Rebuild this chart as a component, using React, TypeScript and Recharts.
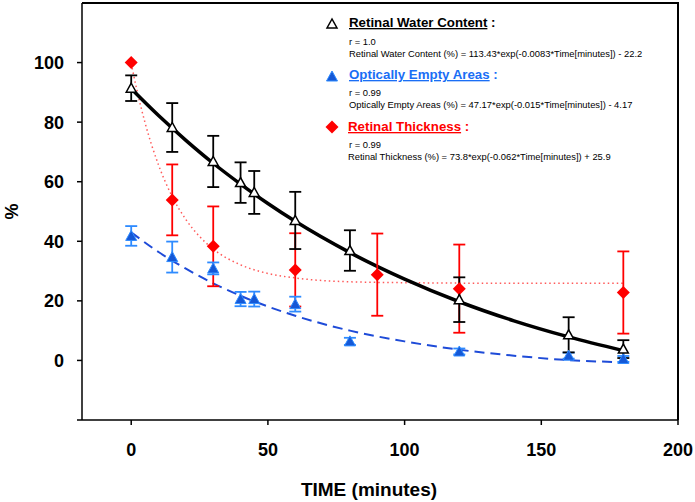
import { ComposedChart, Line, Scatter, ErrorBar, XAxis, YAxis, Label } from 'recharts';

// measured points (mean, +/- error bar)
const waterTime = [0, 15, 30, 40, 45, 60, 80, 120, 160, 180];
const waterMean = [91.4, 78.2, 66.8, 59.7, 56.4, 47.0, 36.9, 20.4, 8.6, 3.8];
const waterErr = [4.3, 8.2, 8.6, 6.8, 7.2, 9.6, 6.8, 7.5, 5.9, 3.0];

const emptyTime = [0, 15, 30, 40, 45, 60, 80, 120, 160, 180];
const emptyMean = [41.8, 34.7, 30.9, 20.6, 20.6, 18.9, 6.4, 3.0, 1.6, 0.5];
const emptyErr = [3.3, 5.2, 2.0, 2.4, 2.5, 2.5, 1.2, 1.0, 1.0, 1.0];

const thickTime = [0, 15, 30, 60, 90, 120, 180];
const thickMean = [100.0, 53.9, 38.3, 30.4, 28.8, 24.1, 22.8];
const thickErr = [0, 11.9, 13.4, 12.3, 13.8, 14.8, 13.8];

// fitted curves
const waterFitTime = [0, 10, 20, 30, 40, 50, 60, 80, 100, 120, 140, 160, 180];
const waterFitVal = [91.2, 82.2, 73.9, 66.2, 59.2, 52.7, 46.7, 36.2, 27.3, 19.7, 13.3, 7.9, 3.3];

const emptyFitTime = [0, 10, 20, 30, 40, 50, 60, 80, 100, 120, 140, 160, 180];
const emptyFitVal = [43.0, 36.4, 30.8, 25.9, 21.7, 18.1, 15.0, 10.0, 6.4, 3.6, 1.6, 0.1, -0.6];

const thickFitTime = [0, 2, 5, 10, 15, 20, 25, 30, 40, 50, 60, 80, 100, 140, 180];
const thickFitVal = [99.7, 91.1, 80.0, 65.6, 55.0, 47.3, 41.6, 37.4, 32.1, 29.2, 27.7, 26.4, 26.1, 25.9, 25.9];

const xTicks = [0, 50, 100, 150, 200];
const yTicks = [-20, 0, 20, 40, 60, 80, 100];

const pts = (t: number[], v: number[], e?: number[]) =>
  t.map((x, i) => (e ? { t: x, v: v[i], e: e[i] } : { t: x, v: v[i] }));

const waterData = pts(waterTime, waterMean, waterErr);
const emptyData = pts(emptyTime, emptyMean, emptyErr);
const thickData = pts(thickTime, thickMean, thickErr);
const waterFit = pts(waterFitTime, waterFitVal);
const emptyFit = pts(emptyFitTime, emptyFitVal);
const thickFit = pts(thickFitTime, thickFitVal);

const FONT = '"Liberation Sans", Arial, sans-serif';
const BLUE = '#1558d6';
const BLUE_LIGHT = '#2e8bff';
const RED = '#ff0000';

const M = { top: 3, right: 17, bottom: 0, left: 0 };
const Y_W = 82;
const X_H = 82;

const OpenTriangle = (p: any) => (
  <polygon
    points={`${p.cx},${p.cy - 5} ${p.cx - 5},${p.cy + 4} ${p.cx + 5},${p.cy + 4}`}
    fill="#fff"
    stroke="#000"
    strokeWidth={1.5}
  />
);

const FilledTriangle = (p: any) => (
  <polygon
    points={`${p.cx},${p.cy - 5.5} ${p.cx - 5.5},${p.cy + 4.5} ${p.cx + 5.5},${p.cy + 4.5}`}
    fill={BLUE}
    stroke={BLUE_LIGHT}
    strokeWidth={1}
  />
);

const Diamond = (p: any) => (
  <polygon
    points={`${p.cx},${p.cy - 6.5} ${p.cx + 6.5},${p.cy} ${p.cx},${p.cy + 6.5} ${p.cx - 6.5},${p.cy}`}
    fill={RED}
  />
);

const tickStyle = { fontSize: 18, fontWeight: 700, fill: '#000', fontFamily: FONT };

const Legend = () => (
  <svg width={695} height={200} style={{ position: 'absolute', left: 0, top: 0, pointerEvents: 'none' }}>
    <g fontFamily={FONT}>
      <polygon points="332,19 327,28 337,28" fill="#fff" stroke="#000" strokeWidth={1.5} />
      <text x={349} y={27} fontSize={13.3} fontWeight={700} fill="#000">
        <tspan textDecoration="underline">Retinal Water Content</tspan>
        <tspan> :</tspan>
      </text>
      <text x={349} y={45} fontSize={9.4} fill="#000">r = 1.0</text>
      <text x={349} y={57} fontSize={9.4} fill="#000">
        Retinal Water Content (%) = 113.43*exp(-0.0083*Time[minutes]) - 22.2
      </text>

      <polygon points="332,71 326.5,81 337.5,81" fill={BLUE} stroke={BLUE_LIGHT} strokeWidth={1} />
      <text x={349} y={79} fontSize={13.3} fontWeight={700} fill="#1a6ef5">
        <tspan textDecoration="underline">Optically Empty Areas</tspan>
        <tspan> :</tspan>
      </text>
      <text x={349} y={96} fontSize={9.4} fill="#000">r = 0.99</text>
      <text x={349} y={108} fontSize={9.4} fill="#000">
        Optically Empty Areas (%) = 47.17*exp(-0.015*Time[minutes]) - 4.17
      </text>

      <polygon points="332,120.5 338.5,127 332,133.5 325.5,127" fill={RED} />
      <text x={348} y={131} fontSize={13.3} fontWeight={700} fill={RED}>
        <tspan textDecoration="underline">Retinal Thickness</tspan>
        <tspan> :</tspan>
      </text>
      <text x={349} y={148} fontSize={9.4} fill="#000">r = 0.99</text>
      <text x={348} y={160} fontSize={9.4} fill="#000">
        Retinal Thickness (%) = 73.8*exp(-0.062*Time[minutes]) + 25.9
      </text>
    </g>
  </svg>
);

export default function App() {
  return (
    <div style={{ position: 'absolute', left: 0, top: 0, width: 695, height: 502, background: '#fff' }}>
      <ComposedChart width={695} height={502} margin={M}>
        <XAxis
          dataKey="t"
          type="number"
          domain={[-18, 200]}
          ticks={xTicks}
          allowDataOverflow
          height={X_H}
          tickSize={5}
          tickMargin={18}
          tick={tickStyle}
          axisLine={{ stroke: '#000', strokeWidth: 1.5 }}
          tickLine={{ stroke: '#000', strokeWidth: 1.5 }}
        >
          <Label
            value="TIME (minutes)"
            position="insideBottom"
            offset={6}
            dx={-11}
            style={{ fontSize: 19, fontWeight: 700, fill: '#000', fontFamily: FONT }}
          />
        </XAxis>
        <YAxis
          dataKey="v"
          type="number"
          domain={[-20, 120]}
          ticks={yTicks}
          allowDataOverflow
          width={Y_W}
          tickSize={5}
          tickMargin={13}
          tick={tickStyle}
          tickFormatter={(v: number) => (v === -20 ? '' : String(v))}
          axisLine={{ stroke: '#000', strokeWidth: 1.5 }}
          tickLine={{ stroke: '#000', strokeWidth: 1.5 }}
        >
          <Label
            value="%"
            angle={-90}
            position="insideLeft"
            offset={12}
            style={{ fontSize: 18, fontWeight: 700, fill: '#000', fontFamily: FONT, textAnchor: 'middle' }}
          />
        </YAxis>

        <Line
          data={thickFit}
          dataKey="v"
          type="monotone"
          stroke="#ff5a5a"
          strokeWidth={1.5}
          strokeDasharray="1.5 3"
          dot={false}
          isAnimationActive={false}
        />
        <Line
          data={emptyFit}
          dataKey="v"
          type="monotone"
          stroke="#1e4bd8"
          strokeWidth={2}
          strokeDasharray="10 6"
          dot={false}
          isAnimationActive={false}
        />
        <Line
          data={waterFit}
          dataKey="v"
          type="monotone"
          stroke="#000"
          strokeWidth={3.5}
          dot={false}
          isAnimationActive={false}
        />

        <Scatter data={thickData} dataKey="v" shape={Diamond} isAnimationActive={false}>
          <ErrorBar dataKey="e" direction="y" width={6} stroke={RED} strokeWidth={1.8} />
        </Scatter>
        <Scatter data={emptyData} dataKey="v" shape={FilledTriangle} isAnimationActive={false}>
          <ErrorBar dataKey="e" direction="y" width={6} stroke={BLUE_LIGHT} strokeWidth={1.8} />
        </Scatter>
        <Scatter data={waterData} dataKey="v" shape={OpenTriangle} isAnimationActive={false}>
          <ErrorBar dataKey="e" direction="y" width={6} stroke="#000" strokeWidth={1.8} />
        </Scatter>
      </ComposedChart>
      {/* top and right edges of the plot box */}
      <div
        style={{
          position: 'absolute',
          left: M.left + Y_W,
          top: M.top - 1,
          width: 695 - M.right - (M.left + Y_W) + 1,
          height: 502 - M.bottom - X_H - M.top + 1,
          borderTop: '2px solid #000',
          borderRight: '2px solid #000',
          boxSizing: 'border-box',
          pointerEvents: 'none',
          zIndex: 5,
        }}
      />
      <Legend />
    </div>
  );
}
